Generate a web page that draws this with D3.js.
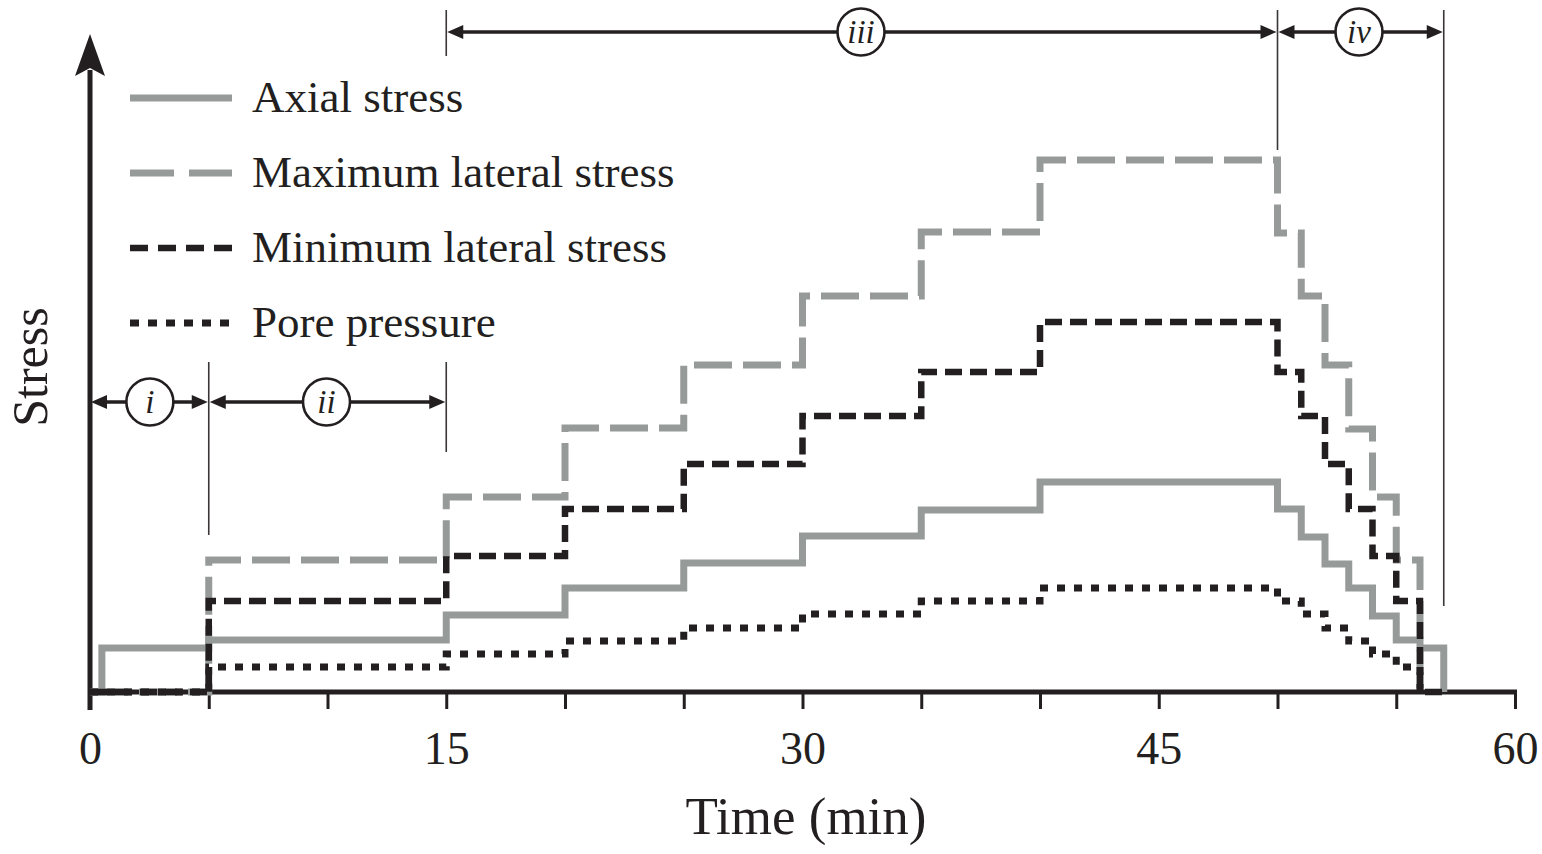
<!DOCTYPE html>
<html>
<head>
<meta charset="utf-8">
<script src="https://cdn.jsdelivr.net/npm/d3@7"></script>
<style>
  html, body { margin: 0; padding: 0; background: #fff; }
  svg { display: block; }
  text { font-family: "Liberation Serif", "Times New Roman", serif; fill: #231f20; }
</style>
</head>
<body>
<svg id="chart" width="1542" height="854"></svg>
<script>
// Loading schedule: time (min) and stress level (arbitrary units) for each series, stepwise
const axialTimes   = [0, 0.5, 5, 15, 20, 25, 30, 35, 40, 50, 51, 52, 53, 54, 55, 56, 57];
const axialValues  = [0, 4.4, 5.2, 7.7, 10.4, 12.9, 15.6, 18.2, 21.0, 18.3, 15.5, 12.8, 10.4, 7.6, 5.2, 4.4, 0];

const maxLatTimes  = [0, 5, 15, 20, 25, 30, 35, 40, 50, 51, 52, 53, 54, 55, 56];
const maxLatValues = [0, 13.2, 19.5, 26.4, 32.7, 39.6, 46.0, 53.2, 45.9, 39.6, 32.7, 26.3, 19.5, 13.2, 0];

const minLatTimes  = [0, 5, 15, 20, 25, 30, 35, 40, 50, 51, 52, 53, 54, 55, 56, 57];
const minLatValues = [0, 9.1, 13.6, 18.3, 22.8, 27.6, 32.0, 37.0, 32.0, 27.6, 22.8, 18.3, 13.6, 9.1, 0, 0];

const poreTimes    = [0, 5, 15, 20, 25, 30, 35, 40, 50, 51, 52, 53, 54, 55, 56];
const poreValues   = [0, 2.5, 3.8, 5.1, 6.4, 7.8, 9.1, 10.4, 9.1, 7.8, 6.4, 5.1, 3.8, 2.5, 0];

const seriesNames  = ["Axial stress", "Maximum lateral stress", "Minimum lateral stress", "Pore pressure"];
const tickValues   = [0, 5, 10, 15, 20, 25, 30, 35, 40, 45, 50, 55, 60];
const tickLabels   = [0, 15, 30, 45, 60];

// Test stages i–iv and their time spans
const stageLabels  = ["i", "ii", "iii", "iv"];
const stageStarts  = [0, 5, 15, 50];
const stageEnds    = [5, 15, 50, 57];

const GRAY = "#969b99", DARK = "#231f20";

const svg = d3.select("#chart");
const x = d3.scaleLinear().domain([0, 60]).range([90, 1515]);
const y = d3.scaleLinear().domain([0, 66]).range([692, 32]);

const styles = [
  { color: GRAY, width: 7, dash: null },
  { color: GRAY, width: 7, dash: "38,11" },
  { color: DARK, width: 6.5, dash: "17,8" },
  { color: DARK, width: 7, dash: "8,9" }
];

// X axis
const xAxis = d3.axisBottom(x)
  .tickValues(tickValues)
  .tickSize(17)
  .tickPadding(22)
  .tickFormat(d => tickLabels.includes(d) ? d : "");
const gx = svg.append("g").attr("transform", `translate(0,${y(0)})`).call(xAxis);
gx.select(".domain").attr("stroke", DARK).attr("stroke-width", 5)
  .attr("d", `M${x(0) - 2},0H${x(60) + 2}`);
gx.selectAll(".tick line").attr("stroke", DARK).attr("stroke-width", 3);
gx.selectAll(".tick text")
  .attr("fill", DARK)
  .style("font-family", "'Liberation Serif', serif")
  .style("font-size", "46px");

// Y axis with arrow head
svg.append("line")
  .attr("x1", x(0)).attr("x2", x(0))
  .attr("y1", y(0) + 18).attr("y2", 70)
  .attr("stroke", DARK).attr("stroke-width", 5);
svg.append("path")
  .attr("d", `M${x(0)},34 L${x(0) - 15},76 L${x(0)},68 L${x(0) + 15},76 Z`)
  .attr("fill", DARK);

// Axis titles
svg.append("text")
  .attr("x", 806).attr("y", 834)
  .attr("text-anchor", "middle")
  .style("font-size", "53px")
  .text("Time (min)");
svg.append("text")
  .attr("transform", "translate(47,367) rotate(-90)")
  .attr("text-anchor", "middle")
  .style("font-size", "50px")
  .text("Stress");

// Stage boundary guide lines
const guides = [
  { t: 5,  y1: 362, y2: 535 },
  { t: 15, y1: 362, y2: 452 },
  { t: 15, y1: 10,  y2: 56 },
  { t: 50, y1: 10,  y2: 150 },
  { t: 57, y1: 10,  y2: 606 }
];
svg.append("g").selectAll("line").data(guides).join("line")
  .attr("x1", d => x(d.t)).attr("x2", d => x(d.t))
  .attr("y1", d => d.y1).attr("y2", d => d.y2)
  .attr("stroke", "#3a3637").attr("stroke-width", 1.6);

// Series lines
const seriesData = [
  d3.zip(axialTimes, axialValues),
  d3.zip(maxLatTimes, maxLatValues),
  d3.zip(minLatTimes, minLatValues),
  d3.zip(poreTimes, poreValues)
];
const line = d3.line().x(d => x(d[0])).y(d => y(d[1])).curve(d3.curveStepAfter);
svg.append("g").selectAll("path").data(seriesData).join("path")
  .attr("d", line)
  .attr("fill", "none")
  .attr("stroke", (d, i) => styles[i].color)
  .attr("stroke-width", (d, i) => styles[i].width)
  .attr("stroke-dasharray", (d, i) => styles[i].dash)
  .attr("stroke-linejoin", "miter");

// Stage arrows with circled roman numerals
const stageRowY = [402, 402, 32, 32];
const stages = stageLabels.map((s, i) => ({ label: s, t0: stageStarts[i], t1: stageEnds[i], yy: stageRowY[i] }));
const sg = svg.append("g").selectAll("g").data(stages).join("g");
sg.append("line")
  .attr("x1", d => x(d.t0) + 10).attr("x2", d => x(d.t1) - 10)
  .attr("y1", d => d.yy).attr("y2", d => d.yy)
  .attr("stroke", DARK).attr("stroke-width", 3.5);
sg.append("path")
  .attr("d", d => `M${x(d.t0) + 1},${d.yy} L${x(d.t0) + 17},${d.yy - 7} L${x(d.t0) + 17},${d.yy + 7} Z`)
  .attr("fill", DARK);
sg.append("path")
  .attr("d", d => `M${x(d.t1) - 1},${d.yy} L${x(d.t1) - 17},${d.yy - 7} L${x(d.t1) - 17},${d.yy + 7} Z`)
  .attr("fill", DARK);
const cx = d => d.label === "iii" ? 861 : (d.label === "iv" ? 1359 : (x(d.t0) + x(d.t1)) / 2 - (d.label === "ii" ? 1 : -0.5));
sg.append("circle")
  .attr("cx", cx).attr("cy", d => d.yy)
  .attr("r", 23.5)
  .attr("fill", "#fff")
  .attr("stroke", DARK).attr("stroke-width", 2.6);
sg.append("text")
  .attr("x", cx).attr("y", d => d.yy + 11)
  .attr("text-anchor", "middle")
  .style("font-size", "33px")
  .style("font-style", "italic")
  .text(d => d.label);

// Legend
const legendY = [98, 173, 248, 323];
const lg = svg.append("g").selectAll("g").data(seriesNames).join("g")
  .attr("transform", (d, i) => `translate(0,${legendY[i]})`);
lg.append("line")
  .attr("x1", 130).attr("x2", 232).attr("y1", 0).attr("y2", 0)
  .attr("stroke", (d, i) => styles[i].color)
  .attr("stroke-width", (d, i) => styles[i].width)
  .attr("stroke-dasharray", (d, i) => i === 1 ? "44,15" : i === 2 ? "18,10" : i === 3 ? "9,9" : null);
lg.append("text")
  .attr("x", 252).attr("y", 14)
  .style("font-size", "45px")
  .text(d => d);
</script>
</body>
</html>
